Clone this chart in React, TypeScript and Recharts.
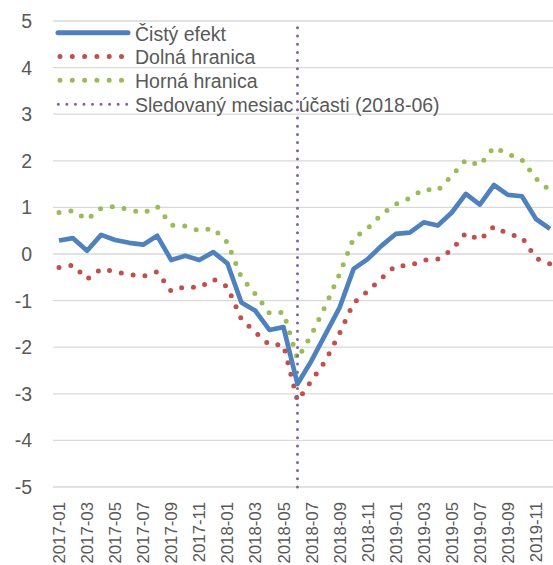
import React from 'react';
import { LineChart, Line, XAxis, YAxis, CartesianGrid, ReferenceLine, Legend } from 'recharts';

const months = [
  '2017-01','2017-02','2017-03','2017-04','2017-05','2017-06','2017-07','2017-08','2017-09','2017-10','2017-11','2017-12',
  '2018-01','2018-02','2018-03','2018-04','2018-05','2018-06','2018-07','2018-08','2018-09','2018-10','2018-11','2018-12',
  '2019-01','2019-02','2019-03','2019-04','2019-05','2019-06','2019-07','2019-08','2019-09','2019-10','2019-11','2019-12',
];

const cistyEfekt = [
  0.29, 0.34, 0.07, 0.41, 0.30, 0.24, 0.20, 0.39, -0.13, -0.04, -0.13, 0.04,
  -0.20, -1.04, -1.22, -1.63, -1.57, -2.79, -2.29, -1.72, -1.15, -0.32, -0.11, 0.18,
  0.43, 0.46, 0.68, 0.61, 0.89, 1.29, 1.06, 1.48, 1.27, 1.24, 0.75, 0.54,
];

const dolnaHranica = [
  -0.29, -0.24, -0.54, -0.32, -0.38, -0.44, -0.48, -0.38, -0.80, -0.70, -0.72, -0.54,
  -0.70, -1.40, -1.68, -1.95, -1.95, -3.15, -2.72, -2.29, -1.70, -1.05, -0.80, -0.52,
  -0.25, -0.25, -0.13, -0.11, 0.09, 0.45, 0.30, 0.59, 0.43, 0.36, -0.09, -0.21,
];

const hornaHranica = [
  0.89, 0.93, 0.74, 0.98, 1.02, 0.95, 0.88, 1.02, 0.62, 0.60, 0.50, 0.55,
  0.25, -0.50, -0.86, -1.27, -1.25, -2.25, -1.73, -1.11, -0.43, 0.34, 0.55, 0.85,
  1.07, 1.20, 1.39, 1.36, 1.68, 2.02, 1.90, 2.29, 2.15, 2.02, 1.62, 1.36,
];

const yTicks = [-5, -4, -3, -2, -1, 0, 1, 2, 3, 4, 5];
const markerMonth = '2018-06';

const legendLabels = ['Čistý efekt', 'Dolná hranica', 'Horná hranica', 'Sledovaný mesiac účasti (2018-06)'];

const data = months.map((m, i) => ({
  month: m,
  cisty: cistyEfekt[i],
  dolna: dolnaHranica[i],
  horna: hornaHranica[i],
}));

const FONT = '"Liberation Sans", Arial, sans-serif';
const TEXT = '#595959';
const BLUE = '#4f81bd';
const RED = '#c0504d';
const GREEN = '#9bbb59';
const PURPLE = '#8064a2';

const XTick = (props: any) => {
  const { x, y, payload } = props;
  const yy = y + 7;
  return (
    <text
      x={x}
      y={yy}
      transform={`rotate(-90, ${x}, ${yy})`}
      textAnchor="end"
      dy="0.36em"
      fill={TEXT}
      fontSize={16.8}
      fontFamily={FONT}
    >
      {payload.value}
    </text>
  );
};

const LegendContent = () => {
  const rows = [32.7, 56.4, 80.3, 104.2];
  return (
    <svg width={553} height={130} style={{ display: 'block' }}>
      <line x1={58} x2={128} y1={rows[0]} y2={rows[0]} stroke={BLUE} strokeWidth={5} strokeLinecap="round" />
      <line x1={60} x2={123} y1={rows[1]} y2={rows[1]} stroke={RED} strokeWidth={5} strokeLinecap="round" strokeDasharray="0 12.3" />
      <line x1={60} x2={123} y1={rows[2]} y2={rows[2]} stroke={GREEN} strokeWidth={5} strokeLinecap="round" strokeDasharray="0 12.3" />
      <line x1={58.3} x2={127} y1={rows[3]} y2={rows[3]} stroke={PURPLE} strokeWidth={3} strokeLinecap="round" strokeDasharray="0 8.55" />
      {legendLabels.map((t, i) => (
        <text key={t} x={135} y={rows[i] + 7.8} fill={TEXT} fontSize={19.5} fontFamily={FONT}>
          {t}
        </text>
      ))}
    </svg>
  );
};

export default function App() {
  return (
    <div style={{ position: 'absolute', left: 0, top: 0, width: 553, height: 565, background: '#fff' }}>
      <LineChart
        width={553}
        height={565}
        data={data}
        margin={{ top: 21, right: 0, bottom: 0, left: 8 }}
      >
        <CartesianGrid vertical={false} stroke="#d9d9d9" strokeWidth={1.3} />
        <XAxis
          dataKey="month"
          interval={1}
          height={78}
          axisLine={false}
          tickLine={false}
          padding={{ left: 6, right: 3 }}
          tick={<XTick />}
        />
        <YAxis
          type="number"
          domain={[-5, 5]}
          ticks={yTicks}
          width={45}
          axisLine={false}
          tickLine={false}
          tickSize={0}
          tickMargin={21}
          tick={{ fill: TEXT, fontSize: 19.5, fontFamily: FONT }}
          interval={0}
        />
        <Legend
          layout="horizontal"
          verticalAlign="middle"
          align="center"
          content={<LegendContent />}
          wrapperStyle={{ position: 'absolute', top: 0, left: 0, width: 553, height: 130 }}
        />
        <Line
          dataKey="dolna"
          stroke={RED}
          strokeWidth={5}
          strokeDasharray="0 12"
          strokeLinecap="round"
          dot={false}
          isAnimationActive={false}
        />
        <Line
          dataKey="horna"
          stroke={GREEN}
          strokeWidth={5}
          strokeDasharray="0 12"
          strokeLinecap="round"
          dot={false}
          isAnimationActive={false}
        />
        <ReferenceLine
          x={markerMonth}
          stroke={PURPLE}
          strokeWidth={3}
          strokeDasharray="0 8.2"
          strokeLinecap="round"
        />
        <Line
          dataKey="cisty"
          stroke={BLUE}
          strokeWidth={4.7}
          strokeLinejoin="round"
          dot={false}
          isAnimationActive={false}
        />
      </LineChart>
    </div>
  );
}
